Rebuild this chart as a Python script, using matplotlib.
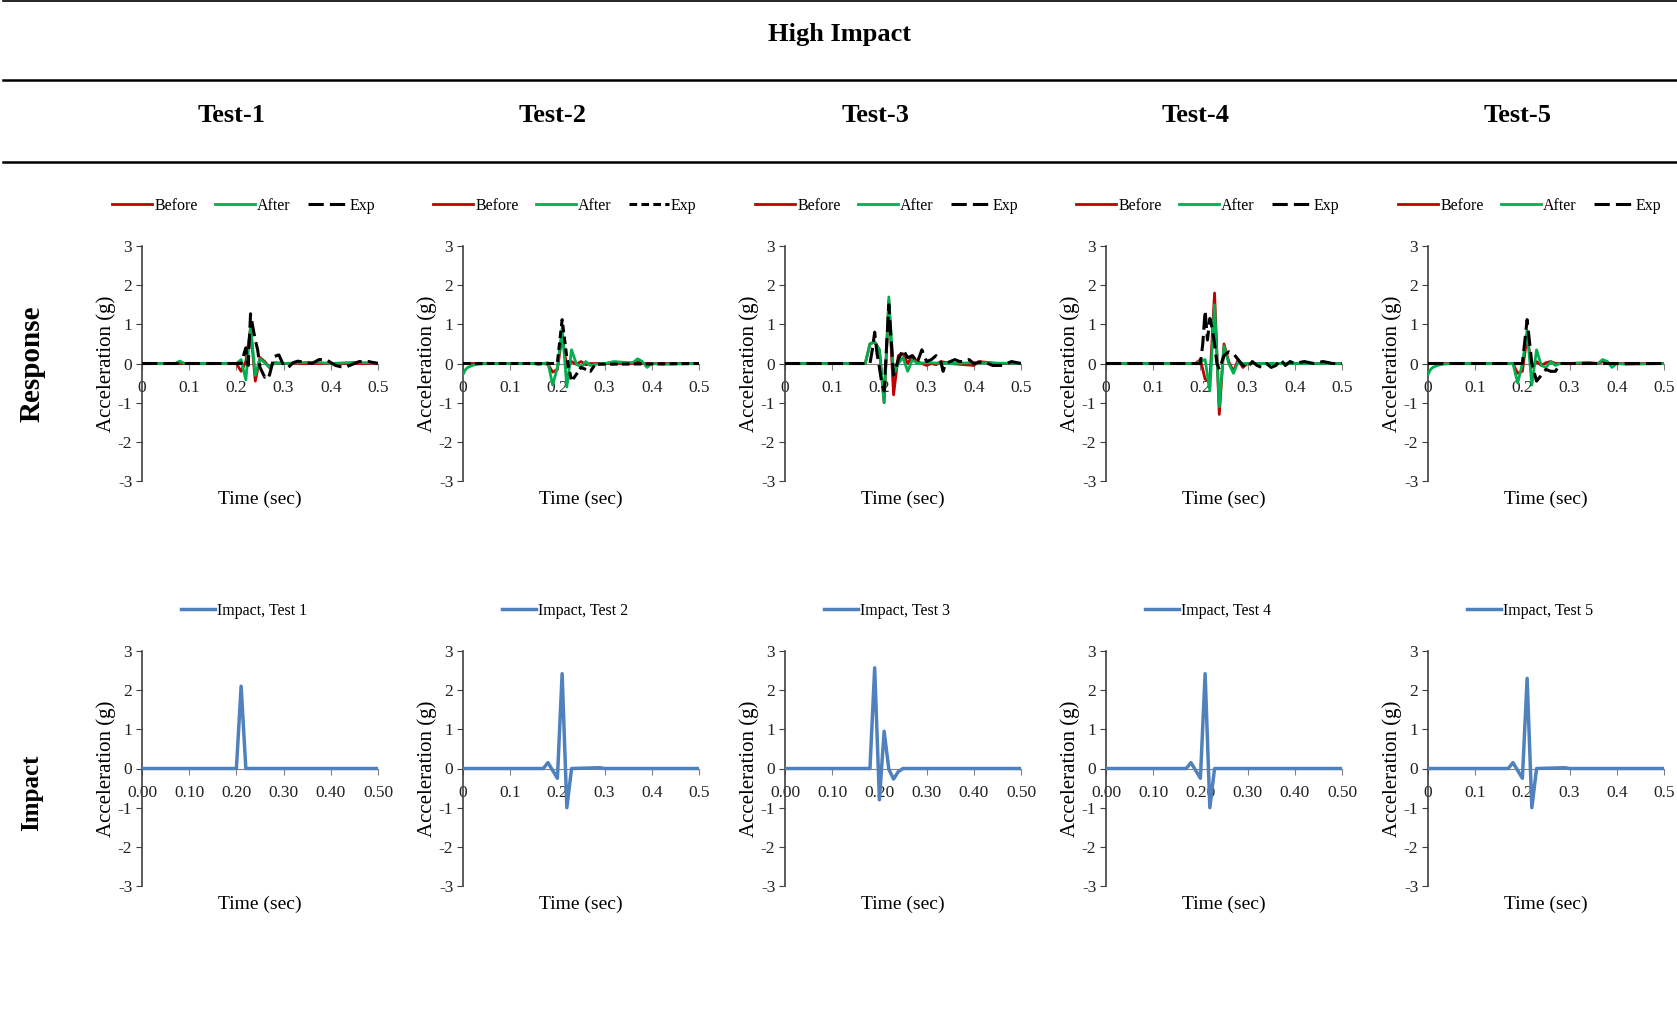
import matplotlib
matplotlib.use("Agg")
import matplotlib.pyplot as plt
from matplotlib.lines import Line2D

plt.rcParams['font.family'] = ['Liberation Serif', 'DejaVu Serif']
plt.rcParams['axes.unicode_minus'] = False

# ---- data (time in s, acceleration in g) ----
# Test-1
b1_t = [0, 0.20, 0.21, 0.22, 0.23, 0.24, 0.25, 0.26, 0.27, 0.28, 0.30, 0.50]
b1_y = [0, 0, -0.2, 0.05, 0.9, -0.45, 0.15, 0.05, -0.1, 0.02, 0, 0]
a1_t = [0, 0.07, 0.08, 0.09, 0.20, 0.21, 0.22, 0.23, 0.24, 0.25, 0.26, 0.27, 0.28, 0.30, 0.35, 0.38, 0.40, 0.45, 0.50]
a1_y = [0, 0, 0.06, 0, 0, 0.1, -0.42, 0.95, -0.3, 0.12, 0.02, -0.1, 0.02, 0, 0.03, 0.02, 0, 0.03, 0.01]
e1_t = [0, 0.21, 0.22, 0.225, 0.23, 0.235, 0.24, 0.245, 0.25, 0.26, 0.265, 0.27, 0.28, 0.29, 0.30, 0.31, 0.32, 0.33, 0.34,
        0.36, 0.375, 0.39, 0.41, 0.42, 0.43, 0.44, 0.46, 0.48, 0.50]
e1_y = [0, 0, 0.4, -0.05, 1.27, 0.92, 0.6, 0.35, -0.1, -0.35, -0.25, -0.3, 0.18, 0.22, -0.05, -0.1, 0.02, 0.06, 0.04,
        0.0, 0.1, 0.1, -0.05, -0.08, -0.1, -0.05, 0.05, 0.05, 0.0]
# Test-2
b2_t = [0, 0.17, 0.18, 0.19, 0.20, 0.21, 0.22, 0.23, 0.24, 0.25, 0.26, 0.27, 0.30, 0.36, 0.37, 0.38, 0.40, 0.50]
b2_y = [0, 0, -0.02, -0.22, -0.15, 0.72, -0.1, 0.05, -0.02, 0.05, -0.03, 0, 0, 0, 0.05, 0, 0, 0]
a2_t = [0, 0.005, 0.01, 0.02, 0.03, 0.05, 0.15, 0.16, 0.17, 0.18, 0.19, 0.20, 0.21, 0.22, 0.23, 0.24, 0.25, 0.26,
        0.27, 0.28, 0.30, 0.32, 0.34, 0.36, 0.37, 0.38, 0.39, 0.40, 0.42, 0.50]
a2_y = [-0.28, -0.16, -0.1, -0.05, -0.02, 0, 0, -0.03, 0, 0.02, -0.55, -0.1, 0.9, -0.6, 0.35, 0.0, -0.1, 0.05,
        -0.05, -0.02, 0, 0.05, 0.03, 0.02, 0.12, 0.05, -0.1, 0, -0.02, 0]
e2_t = [0, 0.19, 0.20, 0.21, 0.22, 0.23, 0.24, 0.25, 0.26, 0.27, 0.28, 0.50]
e2_y = [0, 0, 0.02, 1.12, 0.15, -0.45, -0.28, -0.1, -0.15, -0.2, -0.02, 0]
# Test-3
b3_t = [0, 0.17, 0.18, 0.19, 0.20, 0.21, 0.22, 0.23, 0.24, 0.25, 0.26, 0.27, 0.28, 0.29, 0.30, 0.31, 0.32, 0.33,
        0.35, 0.40, 0.41, 0.45, 0.50]
b3_y = [0, 0, 0.5, 0.55, 0.35, -1.0, 1.6, -0.8, 0.2, 0.25, 0.0, 0.2, 0.05, 0.0, -0.05, 0.0, -0.03, 0.05,
        0.0, -0.05, 0.05, 0, 0]
a3_t = [0, 0.17, 0.18, 0.19, 0.20, 0.21, 0.22, 0.23, 0.24, 0.25, 0.26, 0.27, 0.28, 0.30, 0.35, 0.40, 0.50]
a3_y = [0, 0, 0.5, 0.55, 0.35, -1.0, 1.7, -0.3, 0.0, 0.15, -0.2, 0.1, 0.0, 0.02, 0, 0.02, 0]
e3_t = [0, 0.18, 0.185, 0.19, 0.195, 0.20, 0.205, 0.21, 0.215, 0.22, 0.23, 0.24, 0.25, 0.26, 0.27, 0.28, 0.29,
        0.30, 0.31, 0.32, 0.33, 0.335, 0.34, 0.35, 0.36, 0.37, 0.38, 0.39, 0.40, 0.42, 0.44, 0.46, 0.48, 0.50]
e3_y = [0, 0, 0.35, 0.8, 0.25, -0.1, -0.5, -0.7, 0.4, 1.5, -0.3, 0.1, 0.35, 0.15, 0.2, 0.02, 0.35,
        0.05, 0.1, 0.2, 0.05, -0.2, 0.0, 0.05, 0.1, 0.05, 0.05, 0.1, 0.0, 0.05, -0.05, -0.05, 0.05, 0]
# Test-4
b4_t = [0, 0.19, 0.20, 0.21, 0.22, 0.23, 0.24, 0.25, 0.26, 0.27, 0.28, 0.29, 0.30, 0.50]
b4_y = [0, 0, 0.1, -0.4, -0.45, 1.8, -1.3, 0.5, 0.05, -0.2, 0.1, -0.1, 0, 0]
a4_t = [0, 0.19, 0.20, 0.21, 0.22, 0.23, 0.24, 0.25, 0.26, 0.27, 0.28, 0.29, 0.30, 0.50]
a4_y = [0, 0, 0.05, 0.1, -0.7, 1.5, -1.1, 0.45, 0.0, -0.25, 0.05, 0.0, 0, 0]
e4_t = [0, 0.20, 0.205, 0.21, 0.215, 0.22, 0.225, 0.23, 0.235, 0.24, 0.25, 0.26, 0.27, 0.28, 0.29, 0.30, 0.31,
        0.32, 0.33, 0.34, 0.35, 0.36, 0.37, 0.38, 0.39, 0.40, 0.42, 0.44, 0.46, 0.48, 0.50]
e4_y = [0, 0, 0.5, 1.35, 0.6, 1.15, 0.9, 0.5, 0.0, -0.15, 0.2, 0.3, 0.25, 0.1, -0.05, -0.1, 0.05,
        -0.05, -0.1, 0.0, -0.1, -0.05, 0.1, -0.05, 0.05, 0.0, 0.05, 0.0, 0.05, 0.0, 0]
# Test-5
b5_t = [0, 0.18, 0.19, 0.20, 0.21, 0.22, 0.23, 0.24, 0.25, 0.26, 0.27, 0.30, 0.36, 0.37, 0.38, 0.40, 0.50]
b5_y = [0, 0, -0.25, -0.2, 0.7, -0.1, 0.05, -0.05, 0.02, 0.05, 0, 0, 0, 0.05, 0, 0, 0]
a5_t = [0, 0.005, 0.01, 0.02, 0.03, 0.05, 0.18, 0.19, 0.20, 0.21, 0.22, 0.23, 0.24, 0.25, 0.26, 0.27, 0.28,
        0.30, 0.34, 0.36, 0.37, 0.38, 0.39, 0.40, 0.42, 0.50]
a5_y = [-0.28, -0.16, -0.1, -0.05, -0.02, 0, 0, -0.5, 0.0, 0.85, -0.55, 0.35, -0.05, -0.1, 0.05, -0.05, 0,
        0, 0.03, 0.0, 0.1, 0.05, -0.1, 0, -0.02, 0]
e5_t = [0, 0.20, 0.21, 0.22, 0.23, 0.24, 0.25, 0.26, 0.27, 0.28, 0.50]
e5_y = [0, 0, 1.12, 0.0, -0.45, -0.3, -0.15, -0.2, -0.2, 0.0, 0]

# Impact records
i1_t = [0, 0.20, 0.21, 0.22, 0.50]
i1_y = [0, 0, 2.1, 0, 0]
i2_t = [0, 0.17, 0.18, 0.20, 0.21, 0.22, 0.23, 0.29, 0.30, 0.50]
i2_y = [0, 0, 0.15, -0.25, 2.42, -1.0, 0, 0.02, 0, 0]
i3_t = [0, 0.18, 0.19, 0.20, 0.21, 0.22, 0.23, 0.24, 0.25, 0.50]
i3_y = [0, 0, 2.57, -0.8, 0.95, -0.02, -0.27, -0.08, 0, 0]
i4_t = [0, 0.17, 0.18, 0.20, 0.21, 0.22, 0.23, 0.50]
i4_y = [0, 0, 0.15, -0.25, 2.42, -1.0, 0, 0]
i5_t = [0, 0.17, 0.18, 0.20, 0.21, 0.22, 0.23, 0.29, 0.30, 0.50]
i5_y = [0, 0, 0.15, -0.25, 2.3, -1.0, 0, 0.02, 0, 0]

tests = ["Test-1", "Test-2", "Test-3", "Test-4", "Test-5"]
impact_labels = ["Impact, Test 1", "Impact, Test 2", "Impact, Test 3", "Impact, Test 4", "Impact, Test 5"]
xticks = [0, 0.1, 0.2, 0.3, 0.4, 0.5]
ticks_short = ["0", "0.1", "0.2", "0.3", "0.4", "0.5"]
ticks_long = ["0.00", "0.10", "0.20", "0.30", "0.40", "0.50"]
impact_ticks = [ticks_long, ticks_short, ticks_long, ticks_long, ticks_short]

before = [(b1_t, b1_y), (b2_t, b2_y), (b3_t, b3_y), (b4_t, b4_y), (b5_t, b5_y)]
after = [(a1_t, a1_y), (a2_t, a2_y), (a3_t, a3_y), (a4_t, a4_y), (a5_t, a5_y)]
exp = [(e1_t, e1_y), (e2_t, e2_y), (e3_t, e3_y), (e4_t, e4_y), (e5_t, e5_y)]
impact = [(i1_t, i1_y), (i2_t, i2_y), (i3_t, i3_y), (i4_t, i4_y), (i5_t, i5_y)]

RED = "#C00000"
GREEN = "#00B050"
BLUE = "#4F81BD"
long_dash = (0, (5, 2))
short_dash = (0, (2.5, 1.4))

W, H = 1677, 1018
fig = plt.figure(figsize=(W / 100, H / 100), dpi=100)

def fx(x):
    return x / W

def fy(y):
    return 1 - y / H

# header rules and titles
fig.add_artist(Line2D([fx(3), 1], [fy(1), fy(1)], color="black", lw=1.2))
fig.add_artist(Line2D([fx(3), 1], [fy(80), fy(80)], color="black", lw=1.8))
fig.add_artist(Line2D([fx(3), 1], [fy(162), fy(162)], color="black", lw=1.8))
fig.text(fx(840), fy(34), "High Impact", ha="center", va="center", fontsize=19, fontweight="bold")

fig.text(fx(32), fy(364), "Response", ha="center", va="center", rotation=90, fontsize=21, fontweight="bold")
fig.text(fx(32), fy(793), "Impact", ha="center", va="center", rotation=90, fontsize=18, fontweight="bold")

lefts = [142, 463, 785, 1106, 1428]
aw, ah = 236, 235


def style(ax, labels):
    ax.set_xlim(0, 0.5)
    ax.set_ylim(-3, 3)
    ax.spines["top"].set_visible(False)
    ax.spines["right"].set_visible(False)
    ax.spines["bottom"].set_position(("data", 0))
    ax.spines["bottom"].set_color("#808080")
    ax.spines["left"].set_color("#404040")
    ax.spines["left"].set_linewidth(1.2)
    ax.set_xticks(xticks)
    ax.set_xticklabels(labels)
    ax.set_yticks([-3, -2, -1, 0, 1, 2, 3])
    ax.tick_params(axis="both", direction="out", length=4, labelsize=12.5, colors="#222222")
    ax.tick_params(axis="x", pad=8, color="#808080")
    ax.tick_params(axis="y", pad=3, color="#404040")
    ax.set_facecolor("none")
    ax.text(0.5, -0.08, "Time (sec)", transform=ax.transAxes, ha="center", va="center", fontsize=14)
    ax.text(-0.152, 0.5, "Acceleration (g)", transform=ax.transAxes, ha="center", va="center",
            rotation=90, fontsize=15)


for k in range(5):
    L = lefts[k]
    fig.text(fx(L + 90), fy(115), tests[k], ha="center", va="center", fontsize=19, fontweight="bold")

    # response row
    ax = fig.add_axes([fx(L), fy(246 + ah), fx(aw), ah / H])
    style(ax, ticks_short)
    ls = short_dash if k == 1 else long_dash
    ax.plot(*before[k], color=RED, lw=2, label="Before", zorder=3)
    ax.plot(*after[k], color=GREEN, lw=2, label="After", zorder=4)
    ax.plot(*exp[k], color="black", lw=2.2, ls=ls, label="Exp", zorder=5)
    ax.legend(loc="center", bbox_to_anchor=(fx(L + 102), fy(206)), bbox_transform=fig.transFigure,
              ncol=3, frameon=False, fontsize=11.5, handlelength=2.5, handletextpad=0.15,
              columnspacing=1.05, borderaxespad=0)

    # impact row
    ax2 = fig.add_axes([fx(L), fy(651 + ah), fx(aw), ah / H])
    style(ax2, impact_ticks[k])
    ax2.plot(*impact[k], color=BLUE, lw=2.5, label=impact_labels[k], zorder=4)
    ax2.legend(loc="center", bbox_to_anchor=(fx(L + 102), fy(611)), bbox_transform=fig.transFigure,
               ncol=1, frameon=False, fontsize=11.5, handlelength=2.1, handletextpad=0.15,
               borderaxespad=0)

fig.savefig("out.png", dpi=100)
